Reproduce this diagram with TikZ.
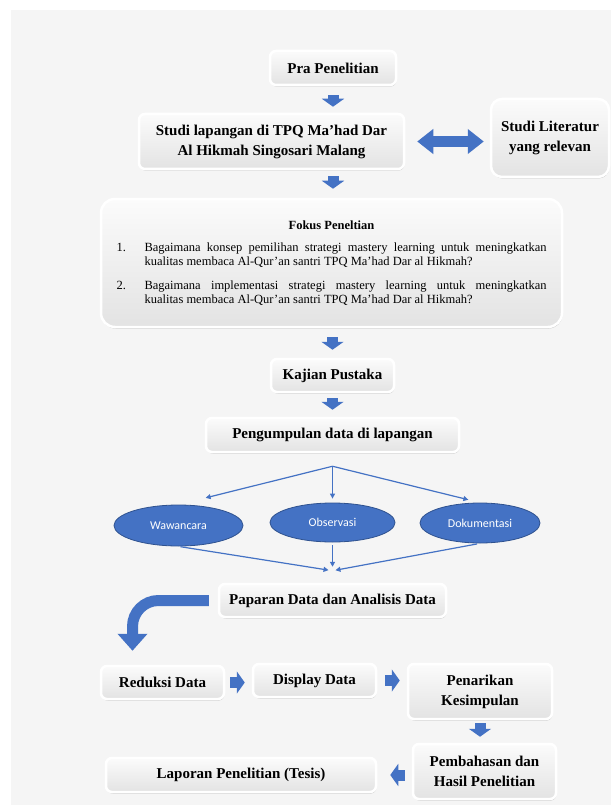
\documentclass[tikz,border=0pt]{standalone}
\usepackage{fontspec}
\setmainfont{Liberation Serif}
\newfontfamily\calfont{Carlito}
\usetikzlibrary{arrows.meta,shapes.geometric,shadows}
\definecolor{biru}{RGB}{68,114,196}
\definecolor{birutua}{RGB}{47,82,143}
\definecolor{latar}{RGB}{245,245,245}
\begin{document}
\begin{tikzpicture}[x=1pt,y=-1pt]
	\tikzstyle{kotak}=[rectangle,rounded corners=6pt,draw=white,line width=2.5pt,top color=gray!3,bottom color=gray!22,drop shadow={shadow xshift=0.5pt,shadow yshift=-1.5pt,opacity=0.45},font=\bfseries\fontsize{15}{20}\selectfont,align=center,inner sep=2pt]
	\tikzstyle{elips}=[ellipse,draw=birutua,line width=0.8pt,fill=biru,text=white,font=\calfont\fontsize{12}{13}\selectfont,inner sep=0pt]
	\tikzstyle{panah}=[draw=biru,line width=11pt,-{Triangle[width=22pt,length=8pt]}]
	\tikzstyle{garis}=[draw=biru,line width=1.2pt,-{Triangle[width=5pt,length=5pt]}]
	% latar
	\useasboundingbox (0,0) rectangle (611,805);
	\fill[white] (0,0) rectangle (611,805);
	\fill[latar] (11,10) rectangle (611,805);
	\begin{scope}
		\node [kotak,minimum width=126pt,minimum height=34pt] (pra) at (333,68) {Pra Penelitian};
		\node [kotak,minimum width=265pt,minimum height=55pt] (studi) at (271.5,141.5) {Studi lapangan di TPQ Ma’had Dar\\Al Hikmah Singosari Malang};
		\node [kotak,rounded corners=11pt,minimum width=118pt,minimum height=78pt] (lit) at (550,138) {Studi Literatur\\yang relevan};
		\node [kotak,rounded corners=14pt,minimum width=461pt,minimum height=128pt,align=justify,text width=430pt,font=\fontsize{12.5}{13.5}\selectfont] (fokus) at (331.5,263) {%
			\noindent\makebox[430pt][c]{\bfseries Fokus Peneltian}\par\vspace{9pt}
			\hangindent=28pt\hangafter=1\noindent\makebox[28pt][l]{1.}Bagaimana konsep pemilihan strategi mastery learning untuk meningkatkan\linebreak kualitas membaca Al-Qur’an santri TPQ Ma’had Dar al Hikmah?\par\vspace{11pt}
			\hangindent=28pt\hangafter=1\noindent\makebox[28pt][l]{2.}Bagaimana implementasi strategi mastery learning untuk meningkatkan\linebreak kualitas membaca Al-Qur’an santri TPQ Ma’had Dar al Hikmah?\par};
		\node [kotak,minimum width=123pt,minimum height=33pt] (kajian) at (332.5,375.5) {Kajian Pustaka};
		\node [kotak,minimum width=253pt,minimum height=34pt] (kumpul) at (332.5,435) {Pengumpulan data di lapangan};
		\node [elips,minimum width=129pt,minimum height=41pt] (wawan) at (178.5,525.5) {Wawancara};
		\node [elips,minimum width=125pt,minimum height=39pt] (obs) at (332.5,522.5) {Observasi};
		\node [elips,minimum width=120pt,minimum height=40pt] (dok) at (480,523) {Dokumentasi};
		\node [kotak,minimum width=227pt,minimum height=33pt] (pap) at (332.5,600.5) {Paparan Data dan Analisis Data};
		\node [kotak,minimum width=123pt,minimum height=33pt] (red) at (162.5,682.5) {Reduksi Data};
		\node [kotak,minimum width=123pt,minimum height=33pt] (disp) at (314.5,680.5) {Display Data};
		\node [kotak,minimum width=144pt,minimum height=55pt] (tarik) at (480,691.5) {Penarikan\\Kesimpulan};
		\node [kotak,minimum width=143pt,minimum height=55pt] (bahas) at (484.5,771.5) {Pembahasan dan\\Hasil Penelitian};
		\node [kotak,minimum width=270pt,minimum height=34pt] (lapor) at (241,775) {Laporan Penelitian (Tesis)};
		\coordinate (hub) at ([yshift=-13pt]kumpul.south);
		\coordinate (sink) at ([yshift=12pt]pap.north);

		\draw[panah,shorten <=9pt,shorten >=6pt] (pra.south) -- (pra.south |- studi.north);
		\draw[panah,shorten <=6pt,shorten >=9pt] (pra.south |- studi.south) -- (pra.south |- fokus.north);
		\draw[panah,shorten <=9pt,shorten >=8pt] (fokus.south -| kajian) -- (kajian.north);
		\draw[panah,shorten <=5pt,shorten >=7pt] (kajian.south) -- (kumpul.north);
		\draw[panah,shorten <=5pt,shorten >=7pt] (red.east) -- (red.east -| disp.west);
		\draw[panah,shorten <=8pt,shorten >=7pt] (disp.east) -- (disp.east -| tarik.west);
		\draw[panah,shorten <=3pt,shorten >=6pt] (tarik.south) -- (tarik.south |- bahas.north);
		\draw[panah,shorten <=7pt,shorten >=13pt] (bahas.west |- lapor) -- (lapor.east);
		\draw[panah,{Triangle[width=24pt,length=16pt]}-{Triangle[width=24pt,length=16pt]},shorten <=12pt,shorten >=6pt] (studi.east) -- (studi.east -| lit.west);
		\draw[panah,-{Triangle[width=29pt,length=17pt]},rounded corners=26pt,shorten <=9pt] (pap.west) -| ([xshift=-30pt,yshift=14pt]red.north);

		\draw[garis,shorten >=28pt] (hub) -- (wawan.north);
		\draw[garis,shorten >=4pt] (hub) -- (obs.north);
		\draw[garis,shorten >=12pt] (hub) -- (dok.north);
		\draw[garis,shorten <=2pt,shorten >=4pt] (wawan.south) -- (sink);
		\draw[garis,shorten <=3pt,shorten >=4pt] (obs.south) -- (sink);
		\draw[garis,shorten <=3pt,shorten >=3pt] (dok.south) -- (sink);
	\end{scope}
\end{tikzpicture}
\end{document}
